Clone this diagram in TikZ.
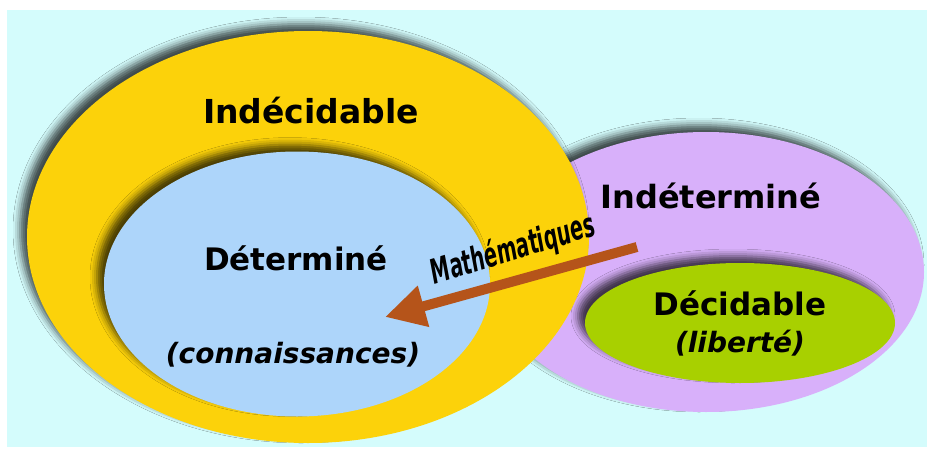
\documentclass[tikz,border=0pt]{standalone}
\usepackage{fontspec}
\setmainfont{DejaVu Sans}
\usepackage{graphicx}
\usetikzlibrary{shapes.geometric,shadows.blur,arrows.meta}
\definecolor{bgcyan}{HTML}{D4FCFC}
\definecolor{setyellow}{HTML}{FCD20A}
\definecolor{setblue}{HTML}{ADD5FA}
\definecolor{setpurple}{HTML}{D8B0FA}
\definecolor{setgreen}{HTML}{A8D000}
\definecolor{mathsbrown}{HTML}{B5541A}

\begin{document}
\begin{tikzpicture}[x=1pt,y=-1pt,
  set/.style={ellipse, inner sep=0pt, outer sep=0pt,
    blur shadow={shadow xshift=-7pt, shadow yshift=7pt, shadow blur radius=7pt, shadow opacity=70}},
  title/.style={anchor=base, font=\fontsize{32}{36}\selectfont\bfseries},
  sub/.style={anchor=base, font=\fontsize{28}{32}\selectfont\bfseries\itshape}]
  \useasboundingbox (0,0) rectangle (927,450);
  \fill[bgcyan] (7,10) rectangle (927,447);
  \node[set, fill=setpurple, minimum width=436pt, minimum height=280pt] (indet) at (706,272) {};
  \node[set, fill=setgreen, minimum width=310pt, minimum height=120pt] (decid) at (740,323) {};
  \node[set, fill=setyellow, minimum width=562pt, minimum height=412pt] (indec) at (308,237) {};
  \node[set, fill=setblue, minimum width=386pt, minimum height=265pt] (determ) at (297,284) {};

  \node[title, font=\fontsize{33}{38}\selectfont\bfseries] (indec-label) at (311,123) {Indécidable};
  \node[title, font=\fontsize{31}{36}\selectfont\bfseries] (determ-label) at (296,270) {Déterminé};
  \node[sub] (determ-sub) at (293,363) {(connaissances)};
  \node[title] (indet-label) at (711,208) {Indéterminé};
  \node[title, font=\fontsize{31}{36}\selectfont\bfseries] (decid-label) at (740,315) {Décidable};
  \node[sub] (decid-sub) at (740,352) {(liberté)};

  \coordinate (maths-start) at (637,247);
  \coordinate (maths-end) at (385,317);
  \draw[mathsbrown, line width=10pt, -{Triangle[length=40pt, width=40pt]}] (maths-start) -- (maths-end);
  \node[rotate=17, inner sep=0pt, font=\fontsize{34}{38}\selectfont\bfseries\itshape] (maths) at (513,250) {\scalebox{0.57}[1]{Mathématiques}};
\end{tikzpicture}
\end{document}
